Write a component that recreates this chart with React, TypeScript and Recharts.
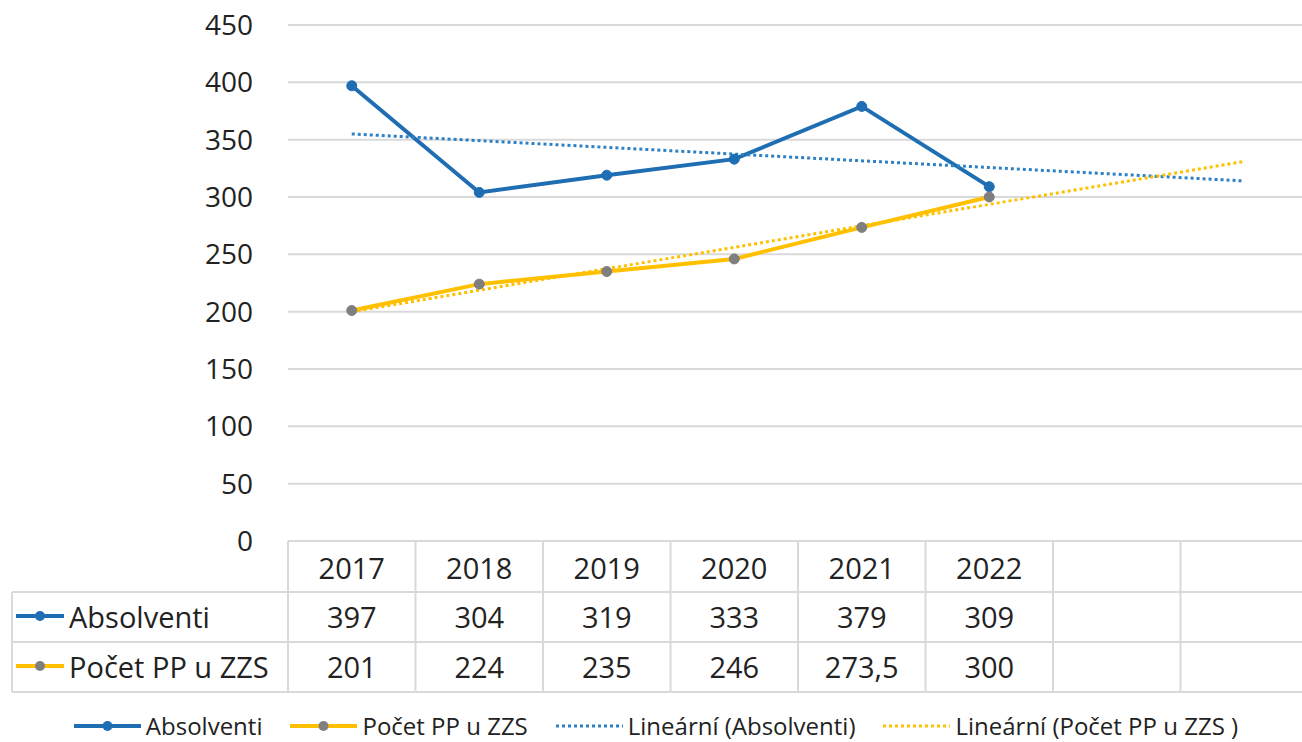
import React from 'react';
import { ComposedChart, Line, XAxis, YAxis, CartesianGrid } from 'recharts';

const categories = ['2017', '2018', '2019', '2020', '2021', '2022', '', ''];
const absolventi: (number | null)[] = [397, 304, 319, 333, 379, 309, null, null];
const pocetPP: (number | null)[] = [201, 224, 235, 246, 273.5, 300, null, null];
// linear trend lines (start at 2017, end at last category)
const trendAbsolventi: (number | null)[] = [355, null, null, null, null, null, null, 314];
const trendPocetPP: (number | null)[] = [200, null, null, null, null, null, null, 331];
const yTicks = [0, 50, 100, 150, 200, 250, 300, 350, 400, 450];

const seriesNames = ['Absolventi', 'Počet PP u ZZS'];
const legendNames = ['Absolventi', 'Počet PP u ZZS', 'Lineární (Absolventi)', 'Lineární (Počet PP u ZZS )'];

const BLUE = '#1F6DB2';
const YELLOW = '#FFC000';
const GRAY_DOT = '#7F7F7F';
const TREND_BLUE = '#2E80C4';
const GRID = '#D9D9D9';
const TEXT = '#222222';
const FONT = '"Open Sans", "Liberation Sans", Arial, sans-serif';

const data = categories.map((c, i) => ({
  year: c,
  absolventi: absolventi[i],
  pocet: pocetPP[i],
  trendA: trendAbsolventi[i],
  trendP: trendPocetPP[i],
}));

const CHART_W = 1310;
const CHART_H = 742;
const MARGIN = { top: 25, right: 2, left: 0, bottom: 0 };
const Y_W = 288;
const BW = (CHART_W - Y_W - MARGIN.right) / categories.length;
const ROW1 = 51;
const ROW2 = 101;
const ROW3 = 151;
const HEADER_LEFT = 12;

const fmt = (v: number | null) => (v == null ? '' : String(v).replace('.', ','));

const KeyIcon = ({ x, y, color, dot }: { x: number; y: number; color: string; dot: string }) => (
  <g>
    <line x1={x} y1={y} x2={x + 48} y2={y} stroke={color} strokeWidth={4} />
    <circle cx={x + 24} cy={y} r={5} fill={dot} />
  </g>
);

const TableTick = (props: any) => {
  const { x, y, payload } = props;
  const i = payload && payload.index != null ? payload.index : props.index;
  const l = x - BW / 2;
  const r = x + BW / 2;
  const textStyle = { fontFamily: FONT, fontSize: 29, fill: TEXT } as any;
  const last = i === categories.length - 1;
  return (
    <g>
      <line x1={l} y1={y} x2={l} y2={y + ROW3} stroke={GRID} strokeWidth={2} />
      {last && <line x1={r} y1={y} x2={r} y2={y + ROW3} stroke={GRID} strokeWidth={2} />}
      <line x1={l} y1={y} x2={r} y2={y} stroke={GRID} strokeWidth={2} />
      <line x1={l} y1={y + ROW1} x2={r} y2={y + ROW1} stroke={GRID} strokeWidth={2} />
      <line x1={l} y1={y + ROW2} x2={r} y2={y + ROW2} stroke={GRID} strokeWidth={2} />
      <line x1={l} y1={y + ROW3} x2={r} y2={y + ROW3} stroke={GRID} strokeWidth={2} />
      <text x={x} y={y + 26} textAnchor="middle" dominantBaseline="central" style={textStyle}>
        {payload.value}
      </text>
      <text x={x} y={y + 75} textAnchor="middle" dominantBaseline="central" style={textStyle}>
        {fmt(absolventi[i])}
      </text>
      <text x={x} y={y + 125} textAnchor="middle" dominantBaseline="central" style={textStyle}>
        {fmt(pocetPP[i])}
      </text>
      {i === 0 && (
        <g>
          <line x1={HEADER_LEFT} y1={y + ROW1} x2={l} y2={y + ROW1} stroke={GRID} strokeWidth={2} />
          <line x1={HEADER_LEFT} y1={y + ROW2} x2={l} y2={y + ROW2} stroke={GRID} strokeWidth={2} />
          <line x1={HEADER_LEFT} y1={y + ROW3} x2={l} y2={y + ROW3} stroke={GRID} strokeWidth={2} />
          <line x1={HEADER_LEFT} y1={y + ROW1} x2={HEADER_LEFT} y2={y + ROW3} stroke={GRID} strokeWidth={2} />
          <KeyIcon x={16} y={y + 75} color={BLUE} dot={BLUE} />
          <KeyIcon x={16} y={y + 125} color={YELLOW} dot={GRAY_DOT} />
          <text x={69} y={y + 75} dominantBaseline="central" style={textStyle}>
            {seriesNames[0]}
          </text>
          <text x={69} y={y + 125} dominantBaseline="central" style={textStyle}>
            {seriesNames[1]}
          </text>
        </g>
      )}
    </g>
  );
};

const LegendIcon = ({ color, dot, dotted }: { color: string; dot?: string; dotted?: boolean }) => (
  <svg width={67} height={20} style={{ display: 'block' }}>
    <line
      x1={0}
      y1={10}
      x2={67}
      y2={10}
      stroke={color}
      strokeWidth={dotted ? 3 : 4}
      strokeDasharray={dotted ? '3 3' : undefined}
    />
    {dot && <circle cx={33.5} cy={10} r={5} fill={dot} />}
  </svg>
);

const legendItems = [
  { name: legendNames[0], color: BLUE, dot: BLUE },
  { name: legendNames[1], color: YELLOW, dot: GRAY_DOT },
  { name: legendNames[2], color: TREND_BLUE, dotted: true },
  { name: legendNames[3], color: YELLOW, dotted: true },
];

export default function App() {
  return (
    <div
      style={{
        position: 'absolute',
        left: 0,
        top: 0,
        width: 1302,
        height: 742,
        overflow: 'hidden',
        background: '#ffffff',
      }}
    >
      <ComposedChart width={CHART_W} height={CHART_H} data={data} margin={MARGIN}>
        <CartesianGrid horizontal vertical={false} stroke={GRID} strokeWidth={2} />
        <YAxis
          width={Y_W}
          domain={[0, 450]}
          ticks={yTicks}
          axisLine={false}
          tickLine={false}
          tickSize={0}
          tickMargin={35}
          tick={{ fontFamily: FONT, fontSize: 28, fill: TEXT }}
        />
        <XAxis
          dataKey="year"
          height={201}
          axisLine={false}
          tickLine={false}
          tickSize={0}
          tickMargin={0}
          interval={0}
          padding={{ left: BW / 2, right: BW / 2 }}
          tick={<TableTick />}
        />
        <Line
          dataKey="absolventi"
          stroke={BLUE}
          strokeWidth={4}
          dot={{ r: 5, fill: BLUE, stroke: BLUE, strokeWidth: 1 }}
          isAnimationActive={false}
        />
        <Line
          dataKey="pocet"
          stroke={YELLOW}
          strokeWidth={4}
          dot={{ r: 5, fill: GRAY_DOT, stroke: GRAY_DOT, strokeWidth: 1 }}
          isAnimationActive={false}
        />
        <Line
          dataKey="trendA"
          stroke={TREND_BLUE}
          strokeWidth={3}
          strokeDasharray="3 3"
          dot={false}
          connectNulls
          isAnimationActive={false}
        />
        <Line
          dataKey="trendP"
          stroke={YELLOW}
          strokeWidth={3}
          strokeDasharray="3 3"
          dot={false}
          connectNulls
          isAnimationActive={false}
        />
      </ComposedChart>
      <div
        style={{
          position: 'absolute',
          left: 10,
          top: 713,
          width: 1292,
          height: 25,
          display: 'flex',
          justifyContent: 'center',
          alignItems: 'center',
          gap: 28,
          fontFamily: FONT,
          fontSize: 24,
          lineHeight: '25px',
          color: TEXT,
        }}
      >
        {legendItems.map((it) => (
          <div key={it.name} style={{ display: 'flex', alignItems: 'center', gap: 5 }}>
            <LegendIcon color={it.color} dot={it.dot} dotted={it.dotted} />
            <span style={{ whiteSpace: 'pre' }}>{it.name}</span>
          </div>
        ))}
      </div>
    </div>
  );
}
